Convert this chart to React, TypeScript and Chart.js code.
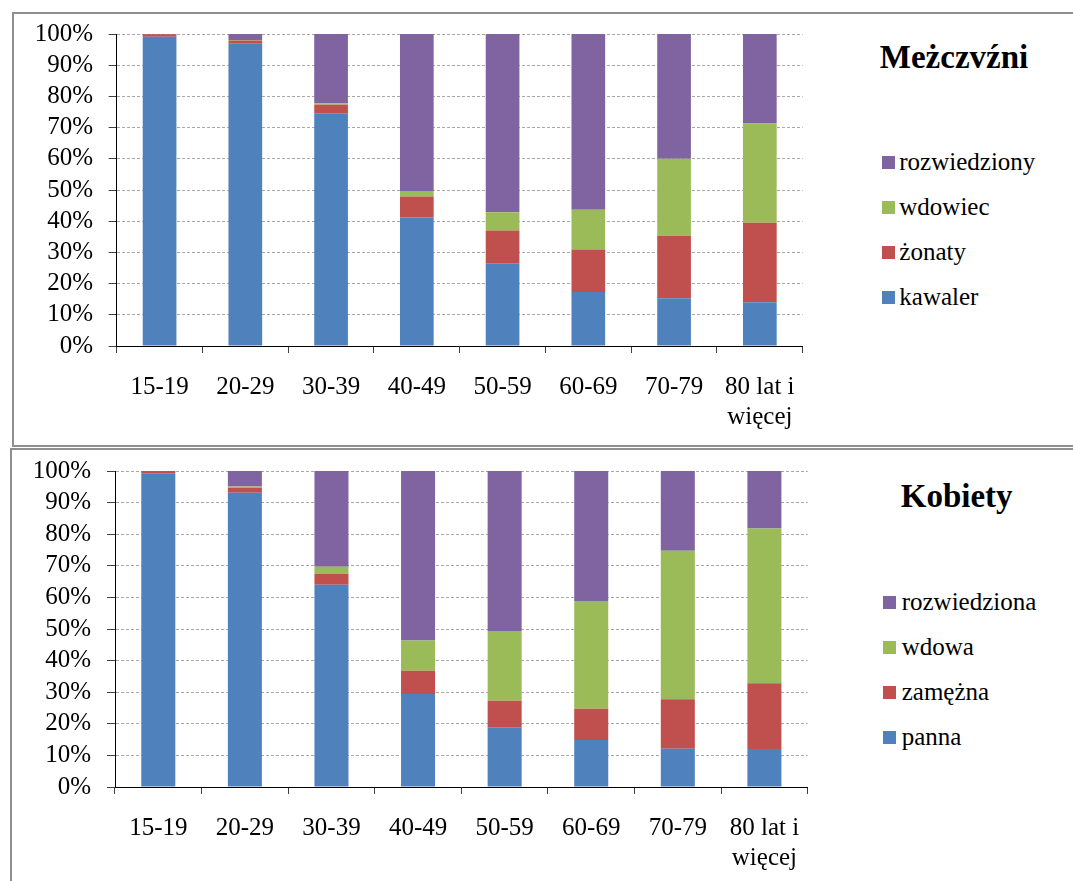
import React, { useEffect, useRef } from 'react';
import { Chart, registerables } from 'chart.js';

Chart.register(...registerables);

// ---- data ----
const categories: (string | string[])[] = ['15-19', '20-29', '30-39', '40-49', '50-59', '60-69', '70-79', ['80 lat i', 'więcej']];
const yTickValues = [0, 10, 20, 30, 40, 50, 60, 70, 80, 90, 100];

const menTitle = 'Meżczvźni';
const menSeriesNames = ['kawaler', 'żonaty', 'wdowiec', 'rozwiedziony'];
const menKawaler = [99.1, 96.9, 74.6, 41.2, 26.5, 17.3, 15.3, 14.0];
const menZonaty = [0.8, 1.0, 2.7, 6.7, 10.5, 13.6, 20.0, 25.5];
const menWdowiec = [0.0, 0.2, 0.5, 1.8, 5.9, 12.8, 24.7, 31.8];
const menRozwiedziony = [0.1, 1.9, 22.2, 50.3, 57.1, 56.3, 40.0, 28.7];

const womenTitle = 'Kobiety';
const womenSeriesNames = ['panna', 'zamężna', 'wdowa', 'rozwiedziona'];
const womenPanna = [99.3, 93.1, 64.0, 29.4, 18.9, 14.9, 12.1, 12.0];
const womenZamezna = [0.7, 1.6, 3.5, 7.4, 8.4, 9.9, 15.7, 20.8];
const womenWdowa = [0.0, 0.4, 2.2, 9.6, 22.1, 34.1, 47.0, 49.0];
const womenRozwiedziona = [0.0, 4.9, 30.3, 53.6, 50.6, 41.1, 25.2, 18.2];

const seriesColors = ['#4F81BD', '#C0504D', '#9BBB59', '#8064A2'];

const FONT = "'Liberation Serif', 'DejaVu Serif', serif";

type Layout = {
  left: number; top: number; width: number; height: number;
  padTop: number; padRight: number; yWidth: number; xHeight: number;
  yTickLen: number; yPad: number;
};

function StackChart({ names, values, layout }: { names: string[]; values: number[][]; layout: Layout }) {
  const ref = useRef<HTMLCanvasElement>(null);
  useEffect(() => {
    if (!ref.current) return;
    const chart = new Chart(ref.current, {
      type: 'bar',
      data: {
        labels: categories as any,
        datasets: names.map((n, i) => ({
          label: n,
          data: values[i],
          backgroundColor: seriesColors[i],
          borderWidth: 0,
          categoryPercentage: 1,
          barPercentage: 0.393,
        })),
      },
      options: {
        responsive: false,
        animation: false,
        events: [],
        layout: { padding: { top: layout.padTop, right: layout.padRight, left: 0, bottom: 0 } },
        plugins: { legend: { display: false }, tooltip: { enabled: false }, title: { display: false } },
        scales: {
          x: {
            stacked: true,
            offset: true,
            grid: { drawOnChartArea: false, drawTicks: true, tickLength: 7, tickColor: '#404040', offset: true },
            border: { display: true, color: '#000', width: 1 },
            ticks: {
              autoSkip: false, maxRotation: 0, minRotation: 0, padding: 19,
              color: '#000', font: { family: FONT, size: 25, lineHeight: 1.2 },
            },
            afterFit: (s: any) => { s.height = layout.xHeight; s.paddingLeft = 0; s.paddingRight = 0; },
          },
          y: {
            stacked: true,
            min: 0,
            max: 100,
            afterBuildTicks: (s: any) => { s.ticks = yTickValues.map((v) => ({ value: v })); },
            grid: { color: '#a8a8a8', lineWidth: 1, tickLength: layout.yTickLen, tickColor: '#404040', tickBorderDash: [] },
            border: { display: true, color: '#000', width: 1, dash: [3, 2] },
            ticks: {
              autoSkip: false,
              stepSize: 10,
              padding: layout.yPad,
              color: '#000',
              font: { family: FONT, size: 25 },
              callback: (v: any) => v + '%',
            },
            afterFit: (s: any) => { s.width = layout.yWidth; s.paddingTop = 0; s.paddingBottom = 0; },
          },
        },
      } as any,
    });
    return () => chart.destroy();
  }, []);
  return (
    <canvas
      ref={ref}
      width={layout.width}
      height={layout.height}
      style={{ position: 'absolute', left: layout.left, top: layout.top, width: layout.width, height: layout.height }}
    />
  );
}

function Legend({ names, left, top, boxLeft }: { names: string[]; left: number; top: number; boxLeft: number }) {
  const items = names.map((n, i) => ({ n, c: seriesColors[i] })).reverse();
  return (
    <div style={{ position: 'absolute', left: boxLeft, top }}>
      {items.map((it) => (
        <div key={it.n} style={{ height: 30, marginBottom: 15, display: 'flex', alignItems: 'center', whiteSpace: 'nowrap' }}>
          <div style={{ width: 13, height: 13, background: it.c, flex: 'none' }} />
          <div style={{ marginLeft: left - boxLeft - 13, fontFamily: FONT, fontSize: 25, lineHeight: '30px', color: '#000' }}>{it.n}</div>
        </div>
      ))}
    </div>
  );
}

function Title({ text, cx, top }: { text: string; cx: number; top: number }) {
  return (
    <div style={{ position: 'absolute', left: cx - 120, width: 240, top, textAlign: 'center', fontFamily: FONT, fontWeight: 'bold', fontSize: 33, lineHeight: '33px', color: '#000' }}>
      {text}
    </div>
  );
}

export default function App() {
  const frame = '2px solid #8f8f8f';
  return (
    <div style={{ position: 'absolute', left: 0, top: 0, width: 1073, height: 881, overflow: 'hidden', background: '#fff' }}>
      <div style={{ position: 'absolute', left: 12, top: 12, width: 1061, height: 435, borderLeft: frame, borderTop: frame, borderBottom: frame, boxSizing: 'border-box' }} />
      <div style={{ position: 'absolute', left: 10, top: 448, width: 1063, height: 433, borderLeft: frame, borderTop: frame, boxSizing: 'border-box' }} />

      <StackChart
        names={menSeriesNames}
        values={[menKawaler, menZonaty, menWdowiec, menRozwiedziony]}
        layout={{ left: 14, top: 14, width: 800, height: 430, padTop: 20, padRight: 11.3, yWidth: 102.7, xHeight: 98, yTickLen: 8, yPad: 15.5 }}
      />
      <Title text={menTitle} cx={954} top={40.5} />
      <Legend names={menSeriesNames} boxLeft={881.7} left={899.3} top={147} />

      <StackChart
        names={womenSeriesNames}
        values={[womenPanna, womenZamezna, womenWdowa, womenRozwiedziona]}
        layout={{ left: 12, top: 450, width: 800, height: 430, padTop: 21, padRight: 4.3, yWidth: 103, xHeight: 93, yTickLen: 8, yPad: 16 }}
      />
      <Title text={womenTitle} cx={956.7} top={480.4} />
      <Legend names={womenSeriesNames} boxLeft={883.3} left={901.7} top={587.3} />
    </div>
  );
}
